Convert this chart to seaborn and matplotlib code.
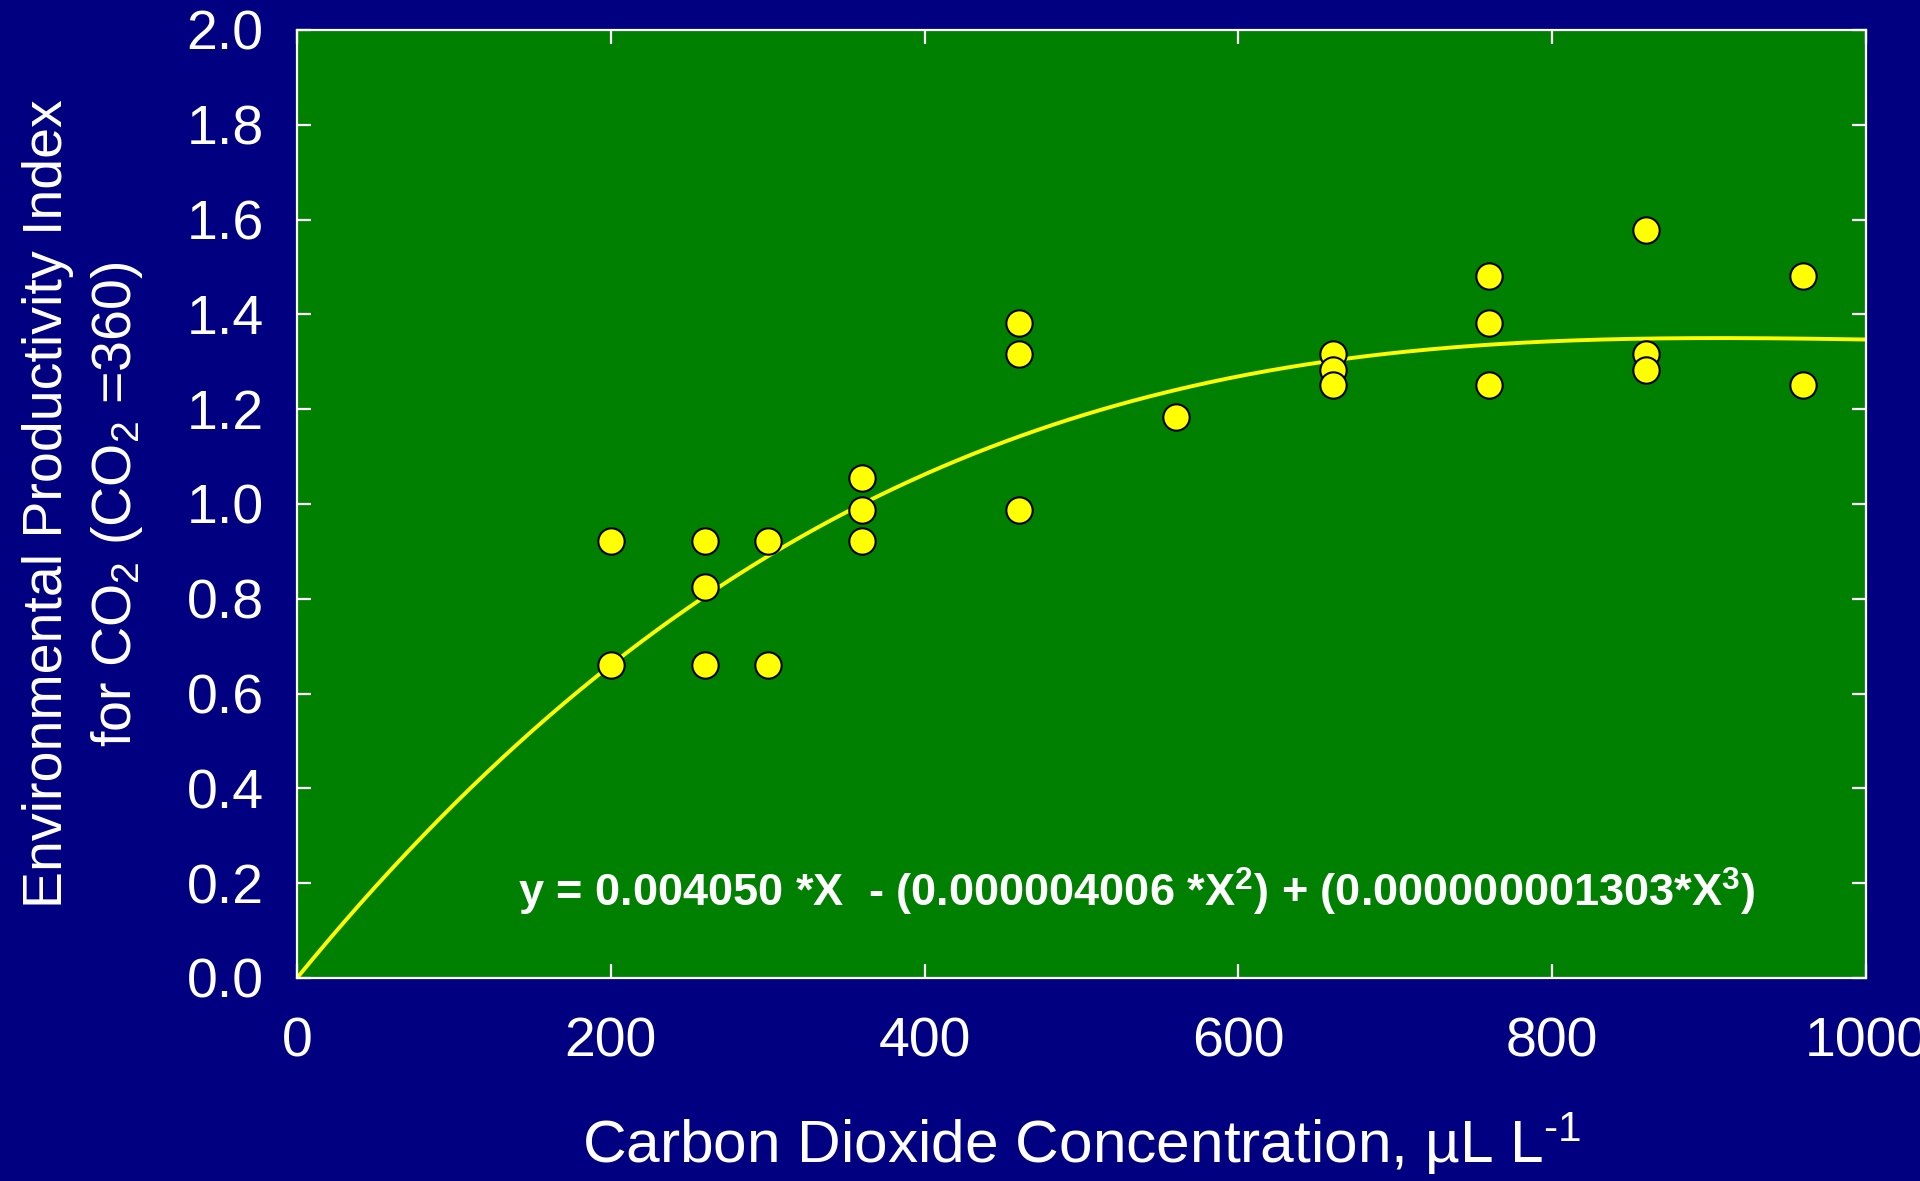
import numpy as np
import pandas as pd
import seaborn as sns
import matplotlib
matplotlib.use("Agg")
import matplotlib.pyplot as plt

co2 = [200, 200, 260, 260, 260, 300, 300, 360, 360, 360, 460, 460, 460,
       560, 660, 660, 660, 760, 760, 760, 860, 860, 860, 960, 960]
epi = [0.922, 0.660, 0.922, 0.824, 0.660, 0.922, 0.660, 1.055, 0.987, 0.922,
       1.382, 1.316, 0.987, 1.184, 1.317, 1.283, 1.250, 1.480, 1.382, 1.250,
       1.579, 1.317, 1.283, 1.480, 1.250]

# fitted cubic given on the chart: y = a*X - b*X^2 + c*X^3
fit_coef = [0.004050, -0.000004006, 0.000000001303]
x_ticks = [0, 200, 400, 600, 800, 1000]
y_ticks = [0.0, 0.2, 0.4, 0.6, 0.8, 1.0, 1.2, 1.4, 1.6, 1.8, 2.0]

NAVY = "#000080"
GREEN = "#008000"
YELLOW = "#FFFF00"

sns.set_style("ticks", {"axes.facecolor": GREEN, "figure.facecolor": NAVY,
                        "axes.edgecolor": "white", "xtick.color": "white",
                        "ytick.color": "white", "text.color": "white",
                        "axes.labelcolor": "white"})
plt.rcParams["font.family"] = ["Liberation Sans", "DejaVu Sans"]
plt.rcParams["mathtext.fontset"] = "custom"
plt.rcParams["mathtext.rm"] = "Liberation Sans"
plt.rcParams["mathtext.it"] = "Liberation Sans"
plt.rcParams["mathtext.bf"] = "Liberation Sans:bold"

df = pd.DataFrame({"co2": co2, "epi": epi})
xs = np.linspace(0, 1000, 400)
ys = fit_coef[0] * xs + fit_coef[1] * xs ** 2 + fit_coef[2] * xs ** 3
curve = pd.DataFrame({"co2": xs, "epi": ys})

fig = plt.figure(figsize=(19.2, 11.81), dpi=100)
ax = fig.add_axes([0.1547, 0.1719, 0.8172, 0.8027])

sns.lineplot(data=curve, x="co2", y="epi", color=YELLOW, lw=2.8, ax=ax)
sns.scatterplot(data=df, x="co2", y="epi", color=YELLOW, edgecolor="black",
                linewidth=1.5, s=360, ax=ax, zorder=5, clip_on=False)

ax.set_xlim(0, 1000)
ax.set_ylim(0, 2.0)
ax.set_xticks(x_ticks)
ax.set_yticks(y_ticks)
ax.set_yticklabels([f"{v:.1f}" for v in y_ticks])
ax.tick_params(direction="in", length=10, width=1.6, labelsize=40,
               top=True, right=True)
ax.tick_params(axis="x", pad=28)
ax.tick_params(axis="y", pad=24)
for sp in ax.spines.values():
    sp.set_color("white")
    sp.set_linewidth(1.6)

ax.set_xlabel(r"Carbon Dioxide Concentration, µL L$^{\text{-1}}$", fontsize=43.5)
ax.xaxis.set_label_coords(0.5, -0.175)
ax.xaxis.label.set_verticalalignment("center")
ax.set_ylabel("Environmental Productivity Index\n"
              r"for CO$_2$ (CO$_2$ =360)", fontsize=40, linespacing=1.35)
ax.yaxis.set_label_coords(-0.136, 0.5)
ax.yaxis.label.set_verticalalignment("center")

ax.text(141, 0.15,
        r"y = 0.004050 *X  - (0.000004006 *X$^{\mathbf{2}}$) + "
        r"(0.000000001303*X$^{\mathbf{3}}$)",
        fontsize=32.5, fontweight="bold", color="white", ha="left", va="baseline")

fig.savefig("out.png", dpi=100, facecolor=NAVY)
